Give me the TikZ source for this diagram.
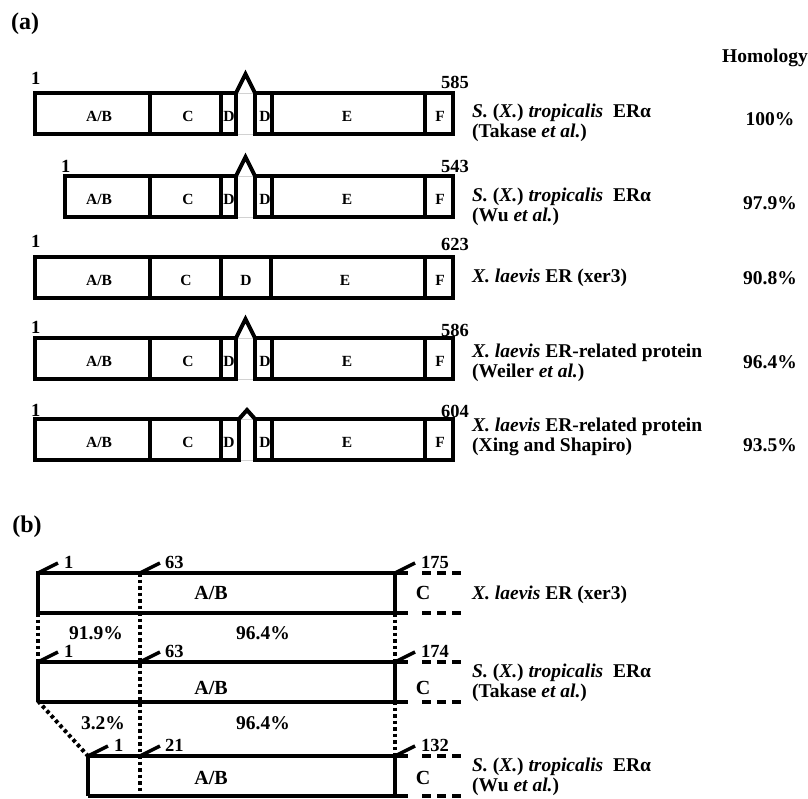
\documentclass[tikz,border=0pt]{standalone}
\usepackage{fontspec}
\setmainfont{Liberation Serif}
\usetikzlibrary{positioning}
\tikzset{
  box/.style={line width=4pt},
  bbox/.style={line width=3.5pt},
  gapline/.style={gray!35, line width=0.7pt},
  seg/.style={font=\bfseries\fontsize{15.5}{15.5}\selectfont, inner sep=0pt},
  bseg/.style={font=\bfseries\fontsize{20}{20}\selectfont, inner sep=0pt},
  num/.style={font=\bfseries\fontsize{18.5}{18.5}\selectfont, inner sep=0pt, anchor=base west},
  lbl/.style={font=\bfseries\fontsize{19.5}{19.5}\selectfont, anchor=west, align=left, inner sep=0pt},
  pct/.style={font=\bfseries\fontsize{19.5}{19.5}\selectfont, inner sep=0pt},
  panel/.style={font=\bfseries\fontsize{24}{24}\selectfont, inner sep=0pt},
  dots/.style={line width=4pt, dash pattern=on 3.5pt off 3pt},
  dashes/.style={line width=3.5pt, dash pattern=on 9pt off 6pt},
}
\newcommand{\trop}{\textit{S.} (\textit{X.}) \textit{tropicalis}\ \ ERα}
\newcommand{\lae}{\textit{X. laevis}}
\begin{document}
\begin{tikzpicture}[x=1pt, y=-1pt]
  \useasboundingbox (0,0) rectangle (808,798);
  % panel labels
  \node[panel] (pa) at (25,24) {(a)};
  \node[panel] (pb) at (27,527) {(b)};
  \node[pct] (hom) at (765,58) {Homology};

  % (a) rows with split D domain
  \foreach \t/\l/\d/\h in {93/35/236/19, 176/65/236/19, 338/35/236/19, 419/35/239/9}{
    \pgfmathsetmacro\b{\t+41}
    \pgfmathsetmacro\m{\t+23}
    \draw[gapline] (\d,\t) -- (255,\t) (\d,\b) -- (255,\b);
    \draw[box] (\l,\t) rectangle (\d,\b);
    \draw[box] (255,\t) rectangle (453,\b);
    \draw[box] (\d,\t) -- ({(\d+255)/2},{\t-\h}) -- (255,\t);
    \draw[box] (150,\t) -- (150,\b) (221,\t) -- (221,\b) (272,\t) -- (272,\b) (425,\t) -- (425,\b);
    \node[seg] (ab\t) at (99,\m) {A/B};
    \node[seg] (c\t) at (188,\m) {C};
    \node[seg] (da\t) at (229,\m) {D};
    \node[seg] (db\t) at (265,\m) {D};
    \node[seg] (e\t) at (347,\m) {E};
    \node[seg] (f\t) at (440,\m) {F};
  }
  % (a) row with whole D domain
  \draw[box] (35,257) rectangle (453,298);
  \draw[box] (150,257) -- (150,298) (221,257) -- (221,298) (271,257) -- (271,298) (425,257) -- (425,298);
  \node[seg] (ab257) at (99,280) {A/B};
  \node[seg] (c257) at (186,280) {C};
  \node[seg] (d257) at (246,280) {D};
  \node[seg] (e257) at (345,280) {E};
  \node[seg] (f257) at (440,280) {F};

  % (a) residue numbers
  \node[num] (s1) at (31,84) {1};
  \node[num] (e1) at (441,88) {585};
  \node[num] (s2) at (61,172) {1};
  \node[num] (e2) at (441,172) {543};
  \node[num] (s3) at (31,247) {1};
  \node[num] (e3) at (441,250) {623};
  \node[num] (s4) at (31,333) {1};
  \node[num] (e4) at (441,336) {586};
  \node[num] (s5) at (31,416) {1};
  \node[num] (e5) at (441,417) {604};

  % (a) names and homology
  \node[lbl] (n1) at (472,123) {\trop\\(Takase \textit{et al.})};
  \node[lbl] (n2) at (472,207) {\trop\\(Wu \textit{et al.})};
  \node[lbl] (n3) at (472,278) {\lae\ ER (xer3)};
  \node[lbl] (n4) at (472,363) {\lae\ ER-related protein\\(Weiler \textit{et al.})};
  \node[lbl] (n5) at (472,437) {\lae\ ER-related protein\\(Xing and Shapiro)};
  \node[pct] (h1) at (770,119) {100\%};
  \node[pct] (h2) at (770,203) {97.9\%};
  \node[pct] (h3) at (770,278) {90.8\%};
  \node[pct] (h4) at (770,362) {96.4\%};
  \node[pct] (h5) at (770,445) {93.5\%};

  % (b) A/B regions
  \foreach \t/\l/\na/\nb/\nc/\y in {573/38/1/63/175/593, 662/38/1/63/174/688, 756/88/1/21/132/778}{
    \pgfmathsetmacro\b{\t+40}
    \draw[bbox] (\l,\b) -- (\l,\t) -- (408,\t) (\l,\b) -- (408,\b) (395,\t) -- (395,\b);
    \draw[dashes] (422,\t) -- (462,\t) (422,\b) -- (462,\b);
    \draw[bbox] (\l,\t) -- ++(20,-10) (140,\t) -- ++(20,-10) (395,\t) -- ++(20,-10);
    \node[num] (ta\t) at (\l+26,{\t-5}) {\na};
    \node[num] (tb\t) at (165,{\t-5}) {\nb};
    \node[num] (tc\t) at (421,{\t-5}) {\nc};
    \node[bseg] (bab\t) at (211,\y) {A/B};
    \node[bseg] (bc\t) at (423,\y) {C};
  }
  % (b) alignment
  \draw[dots] (140,573) -- (140,798);
  \draw[dots] (38,613) -- (38,662);
  \draw[dots] (395,613) -- (395,662);
  \draw[dots] (38,701) -- (88,756);
  \draw[dots] (395,701) -- (395,756);
  \node[pct] (p1) at (96,633) {91.9\%};
  \node[pct] (p2) at (263,633) {96.4\%};
  \node[pct] (p3) at (103,723) {3.2\%};
  \node[pct] (p4) at (263,723) {96.4\%};

  % (b) names
  \node[lbl] (m1) at (472,595) {\lae\ ER (xer3)};
  \node[lbl] (m2) at (472,683) {\trop\\(Takase \textit{et al.})};
  \node[lbl] (m3) at (472,777) {\trop\\(Wu \textit{et al.})};
\end{tikzpicture}
\end{document}
